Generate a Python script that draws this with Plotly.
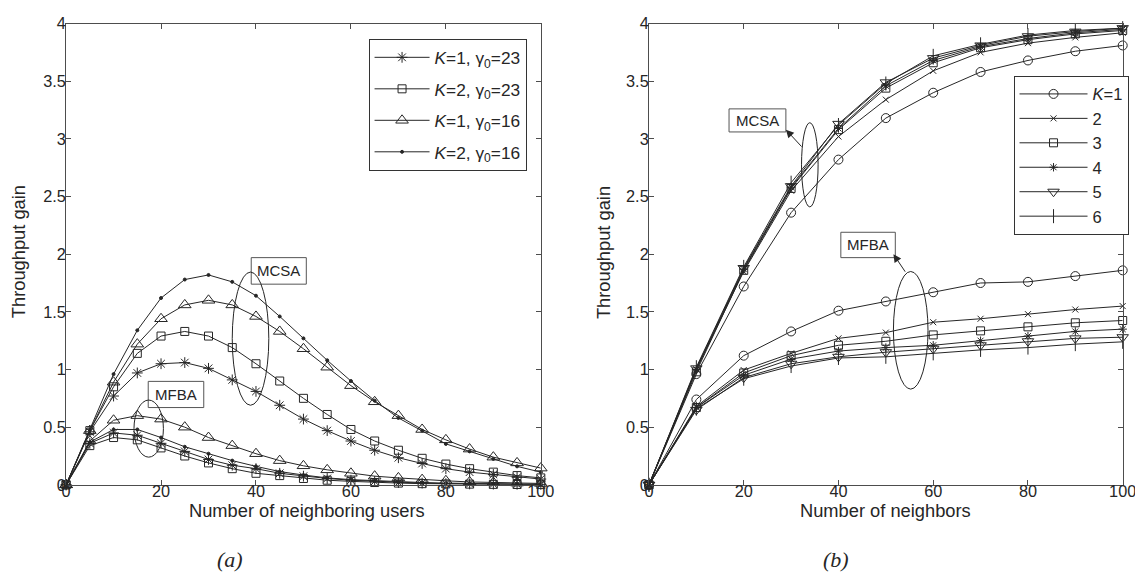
import plotly.graph_objects as go

# ---------------- data: panel (a) ----------------
users = [0, 5, 10, 15, 20, 25, 30, 35, 40, 45, 50, 55, 60, 65, 70, 75, 80, 85, 90, 95, 100]

mcsa_k1_g23 = [0, 0.46, 0.77, 0.97, 1.05, 1.06, 1.01, 0.91, 0.81, 0.69, 0.57, 0.47, 0.38, 0.30, 0.235, 0.185, 0.14, 0.11, 0.09, 0.065, 0.05]
mcsa_k2_g23 = [0, 0.47, 0.85, 1.14, 1.29, 1.33, 1.29, 1.19, 1.05, 0.90, 0.75, 0.61, 0.48, 0.38, 0.30, 0.23, 0.18, 0.14, 0.11, 0.08, 0.06]
mcsa_k1_g16 = [0, 0.47, 0.89, 1.22, 1.44, 1.56, 1.60, 1.56, 1.46, 1.33, 1.18, 1.02, 0.86, 0.72, 0.60, 0.48, 0.39, 0.31, 0.24, 0.19, 0.145]
mcsa_k2_g16 = [0, 0.48, 0.96, 1.34, 1.62, 1.78, 1.82, 1.76, 1.64, 1.46, 1.27, 1.08, 0.90, 0.73, 0.58, 0.47, 0.355, 0.29, 0.225, 0.16, 0.11]

mfba_k1_g23 = [0, 0.36, 0.45, 0.43, 0.36, 0.29, 0.22, 0.17, 0.14, 0.10, 0.075, 0.055, 0.04, 0.03, 0.02, 0.015, 0.01, 0.008, 0.006, 0.005, 0.004]
mfba_k2_g23 = [0, 0.34, 0.41, 0.39, 0.32, 0.25, 0.19, 0.14, 0.10, 0.08, 0.055, 0.04, 0.03, 0.02, 0.015, 0.01, 0.008, 0.006, 0.004, 0.003, 0.002]
mfba_k1_g16 = [0, 0.38, 0.56, 0.60, 0.57, 0.50, 0.41, 0.34, 0.27, 0.21, 0.165, 0.13, 0.10, 0.075, 0.06, 0.045, 0.035, 0.025, 0.02, 0.015, 0.012]
mfba_k2_g16 = [0, 0.37, 0.48, 0.48, 0.41, 0.33, 0.27, 0.21, 0.16, 0.115, 0.085, 0.06, 0.045, 0.035, 0.025, 0.02, 0.015, 0.01, 0.008, 0.006, 0.005]

labels_a = ["<i>K</i>=1, γ<sub>0</sub>=23", "<i>K</i>=2, γ<sub>0</sub>=23",
            "<i>K</i>=1, γ<sub>0</sub>=16", "<i>K</i>=2, γ<sub>0</sub>=16"]

# ---------------- data: panel (b) ----------------
neighbors = [0, 10, 20, 30, 40, 50, 60, 70, 80, 90, 100]

mcsa_b = {
    1: [0, 0.96, 1.72, 2.36, 2.82, 3.18, 3.40, 3.58, 3.68, 3.76, 3.81],
    2: [0, 1.00, 1.85, 2.55, 3.02, 3.34, 3.59, 3.75, 3.83, 3.88, 3.92],
    3: [0, 0.98, 1.86, 2.57, 3.08, 3.44, 3.66, 3.79, 3.86, 3.91, 3.94],
    4: [0, 1.00, 1.87, 2.58, 3.09, 3.46, 3.68, 3.80, 3.87, 3.92, 3.95],
    5: [0, 1.01, 1.88, 2.59, 3.13, 3.49, 3.70, 3.81, 3.89, 3.93, 3.96],
    6: [0, 1.02, 1.89, 2.62, 3.12, 3.48, 3.72, 3.82, 3.90, 3.94, 3.96],
}
mfba_b = {
    1: [0, 0.74, 1.12, 1.33, 1.51, 1.59, 1.67, 1.75, 1.76, 1.81, 1.86],
    2: [0, 0.68, 0.995, 1.14, 1.27, 1.32, 1.41, 1.44, 1.48, 1.52, 1.55],
    3: [0, 0.67, 0.97, 1.12, 1.21, 1.245, 1.30, 1.335, 1.37, 1.405, 1.425],
    4: [0, 0.67, 0.95, 1.09, 1.16, 1.19, 1.21, 1.25, 1.29, 1.33, 1.35],
    5: [0, 0.65, 0.93, 1.05, 1.11, 1.15, 1.18, 1.21, 1.245, 1.27, 1.28],
    6: [0, 0.66, 0.92, 1.03, 1.10, 1.11, 1.14, 1.17, 1.19, 1.22, 1.24],
}
labels_b = ["<i>K</i>=1", "2", "3", "4", "5", "6"]

# ---------------- styling ----------------
INK = "#262626"
FRAME = "#4d4d4d"
FONT = "Liberation Sans"

# figure size and the page-pixel -> figure-pixel mapping used for placement
W, H = 1151, 594
SX, AX = 0.982, 5.0
SY, AY = 0.967, 7.5


def fx(p):
    return (p - AX) / SX / W


def fy(p):
    return 1 - (p - AY) / SY / H


fig = go.Figure()


def add_series(x, y, xa, ya, symbol, size, name, legend, group, show):
    fig.add_trace(go.Scatter(
        x=x, y=y, xaxis=xa, yaxis=ya, mode="lines+markers",
        name=name, legend=legend, legendgroup=group, showlegend=show,
        line=dict(color=INK, width=1),
        marker=dict(symbol=symbol, size=size, color=INK, line=dict(color=INK, width=1)),
        cliponaxis=False,
    ))


# panel (a)
sym_a = [("asterisk-open", 9), ("square-open", 8), ("triangle-up-open", 11), ("circle", 3)]
mcsa_a = [mcsa_k1_g23, mcsa_k2_g23, mcsa_k1_g16, mcsa_k2_g16]
mfba_a = [mfba_k1_g23, mfba_k2_g23, mfba_k1_g16, mfba_k2_g16]
for i, (sym, sz) in enumerate(sym_a):
    add_series(users, mcsa_a[i], "x", "y", sym, sz, labels_a[i], "legend", f"a{i}", True)
    add_series(users, mfba_a[i], "x", "y", sym, sz, labels_a[i], "legend", f"a{i}", False)

# panel (b)
sym_b = [("circle-open", 9), ("x-thin-open", 6), ("square-open", 8),
         ("asterisk-open", 7), ("triangle-down-open", 10), ("line-ns-open", 10)]
for i, (sym, sz) in enumerate(sym_b):
    k = i + 1
    add_series(neighbors, mcsa_b[k], "x2", "y2", sym, sz, labels_b[i], "legend2", f"b{k}", True)
    add_series(neighbors, mfba_b[k], "x2", "y2", sym, sz, labels_b[i], "legend2", f"b{k}", False)

# plot frames (page pixels)
L0, L1 = 66, 540
R0, R1 = 648, 1121
T, B = 22, 482

axis_common = dict(
    showgrid=False, zeroline=False, showline=True, linecolor=FRAME, linewidth=1,
    mirror="allticks", ticks="inside", ticklen=5, tickcolor=FRAME,
    tickfont=dict(family=FONT, size=16.3, color=INK),
)
xcommon = dict(range=[0, 100], dtick=20, ticklabelstandoff=-8, **axis_common)
ycommon = dict(domain=[fy(B), fy(T)], range=[0, 4], dtick=0.5, ticklabelstandoff=-4, **axis_common)

fig.update_layout(
    width=W, height=H, margin=dict(l=0, r=0, t=0, b=0),
    paper_bgcolor="white", plot_bgcolor="white",
    font=dict(family=FONT, color=INK),
    xaxis=dict(domain=[fx(L0), fx(L1)], anchor="y", **xcommon),
    yaxis=dict(anchor="x", **ycommon),
    xaxis2=dict(domain=[fx(R0), fx(R1)], anchor="y2", **xcommon),
    yaxis2=dict(anchor="x2", **ycommon),
    legend=dict(x=fx(368), y=fy(37), xanchor="left", yanchor="top",
                bgcolor="white", bordercolor="#333", borderwidth=1,
                font=dict(family=FONT, size=17.3, color=INK), tracegroupgap=6,
                itemwidth=55),
    legend2=dict(x=fx(1012), y=fy(74), xanchor="left", yanchor="top",
                 bgcolor="white", bordercolor="#333", borderwidth=1,
                 font=dict(family=FONT, size=16.5, color=INK), tracegroupgap=0,
                 itemwidth=68),
)

# axis titles and captions
title_font = dict(family=FONT, size=18.3, color=INK)
for xp, yp, text, angle in [(18, 250, "Throughput gain", -90), (602, 250, "Throughput gain", -90),
                            (307, 508, "Number of neighboring users", 0),
                            (884, 508, "Number of neighbors", 0)]:
    fig.add_annotation(x=fx(xp), y=fy(yp), xref="paper", yref="paper", text=text,
                       textangle=angle, showarrow=False, xanchor="center", yanchor="middle",
                       font=title_font)

cap_font = dict(family="Liberation Serif", size=22, color=INK)
for xp, text in [(230, "<i>(a)</i>"), (835, "<i>(b)</i>")]:
    fig.add_annotation(x=fx(xp), y=fy(556), xref="paper", yref="paper", text=text,
                       showarrow=False, xanchor="center", yanchor="middle", font=cap_font)

# labelled boxes, ellipses and arrows marking the MCSA / MFBA curve groups
box_font = dict(family=FONT, size=15, color=INK)


def label_box(xr, yr, x0, x1, y0, y1, text):
    fig.add_shape(type="rect", xref=xr, yref=yr, x0=x0, x1=x1, y0=y0, y1=y1,
                  line=dict(color="#555", width=1), fillcolor="white", layer="above")
    fig.add_annotation(xref=xr, yref=yr, x=(x0 + x1) / 2, y=(y0 + y1) / 2, text=text,
                       showarrow=False, font=box_font, xanchor="center", yanchor="middle")


def ellipse(xr, yr, x0, x1, y0, y1):
    fig.add_shape(type="circle", xref=xr, yref=yr, x0=x0, x1=x1, y0=y0, y1=y1,
                  line=dict(color=INK, width=1), layer="above")


# panel (a)
label_box("x", "y", 39.0, 50.6, 1.74, 1.97, "MCSA")
ellipse("x", "y", 35.0, 42.7, 0.69, 1.845)
label_box("x", "y", 17.3, 29.0, 0.67, 0.897, "MFBA")
ellipse("x", "y", 14.3, 20.5, 0.24, 0.735)

# panel (b)
label_box("x2", "y2", 16.9, 28.9, 3.06, 3.26, "MCSA")
ellipse("x2", "y2", 32.2, 35.7, 2.41, 3.14)
label_box("x2", "y2", 40.5, 52.0, 1.97, 2.19, "MFBA")
ellipse("x2", "y2", 51.6, 58.9, 0.83, 1.85)

for x, y, ax, ay in [(28.9, 3.08, 32.5, 2.92), (51.6, 2.0, 54.3, 1.835)]:
    fig.add_annotation(xref="x2", yref="y2", axref="x2", ayref="y2", x=x, y=y, ax=ax, ay=ay,
                       text="", showarrow=True, arrowhead=2, arrowsize=1.6, arrowwidth=1,
                       arrowcolor=INK)

fig.write_html("out.html")
